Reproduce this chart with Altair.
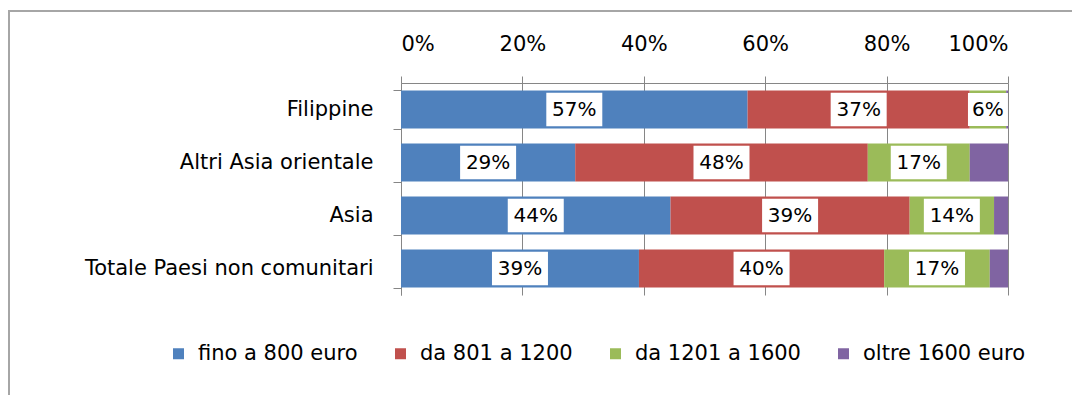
import altair as alt
import pandas as pd

categories = ["Filippine", "Altri Asia orientale", "Asia", "Totale Paesi non comunitari"]
series = ["fino a 800 euro", "da 801 a 1200", "da 1201 a 1600", "oltre 1600 euro"]
colors = ["#4F81BD", "#C0504D", "#9BBB59", "#8064A2"]

fino_800 = [57.1, 28.7, 44.4, 39.2]
da_801_1200 = [36.6, 48.2, 39.4, 40.4]
da_1201_1600 = [6.0, 16.8, 13.9, 17.4]
oltre_1600 = [0.3, 6.3, 2.3, 3.0]

tick_values = [0, 0.2, 0.4, 0.6, 0.8, 1.0]

rows = []
for i, cat in enumerate(categories):
    start = 0.0
    for j, (name, vals) in enumerate(zip(series, [fino_800, da_801_1200, da_1201_1600, oltre_1600])):
        v = vals[i] / 100.0
        rows.append({"cat": cat, "serie": name, "order": j, "start": start, "end": start + v,
                     "mid": start + v / 2, "value": v})
        start += v
df = pd.DataFrame(rows)

FONT = "DejaVu Sans"
FS = 21
FSL = 20

y_enc = alt.Y("cat:N", sort=categories, title=None,
              scale=alt.Scale(paddingInner=0.28, paddingOuter=0.14))

bars = alt.Chart(df).mark_bar(size=38).encode(
    y=y_enc,
    x=alt.X("start:Q", scale=alt.Scale(domain=[0, 1], nice=False), title=None,
            axis=alt.Axis(orient="top", values=tick_values, format=".0%", grid=True,
                          gridColor="#868686", gridWidth=1, domainColor="#868686",
                          tickColor="#868686", tickSize=7, labelPadding=22,
                          labelFontSize=FS, labelFont=FONT, labelColor="#000")),
    x2="end:Q",
    color=alt.Color("serie:N", sort=series,
                    scale=alt.Scale(domain=series, range=colors),
                    legend=alt.Legend(orient="none", legendX=-233, legendY=260,
                                      direction="horizontal", title=None,
                                      symbolType="square", symbolSize=121,
                                      symbolStrokeWidth=0, labelFontSize=FS,
                                      labelFont=FONT, labelColor="#000", labelLimit=0,
                                      columnPadding=32, labelOffset=9, padding=0)),
    order="order:Q",
)

labelled = alt.Chart(df).transform_filter("datum.order < 3 && datum.value >= 0.05").transform_calculate(
    lab="format(datum.value, '.0%')"
)

box3 = labelled.transform_filter("length(datum.lab) >= 3").mark_point(
    shape="M-1,-0.6H1V0.6H-1Z", size=3136, filled=True, fill="white", opacity=1, strokeWidth=0
).encode(x="mid:Q", y=y_enc)

box2 = labelled.transform_filter("length(datum.lab) < 3").mark_point(
    shape="M-1,-0.825H1V0.825H-1Z", size=1600, filled=True, fill="white", opacity=1, strokeWidth=0
).encode(x="mid:Q", y=y_enc)

texts = labelled.mark_text(font=FONT, fontSize=FSL, color="#000", baseline="middle").encode(
    x="mid:Q", y=y_enc, text="lab:N"
)

frame = alt.Chart(alt.Data(values=[{"a": 1}])).mark_rect(
    fillOpacity=0, stroke="#a6a6a6", strokeWidth=2
).encode(x=alt.value(-392), x2=alt.value(720), y=alt.value(-72), y2=alt.value(400))

chart = alt.layer(frame, bars, box3, box2, texts).properties(
    width=607, height=212,
    autosize=alt.AutoSizeParams(type="none"),
    padding={"left": 393, "top": 75, "right": 64, "bottom": 100},
).configure_view(stroke=None).configure_axisY(
    tickBand="extent", domainColor="#868686", tickColor="#868686", tickSize=8,
    labelPadding=20, labelFontSize=FS, labelFont=FONT, labelColor="#000", grid=False,
    labelLimit=0
)

chart.save("out.html", embed_options={"renderer": "svg", "actions": False})
